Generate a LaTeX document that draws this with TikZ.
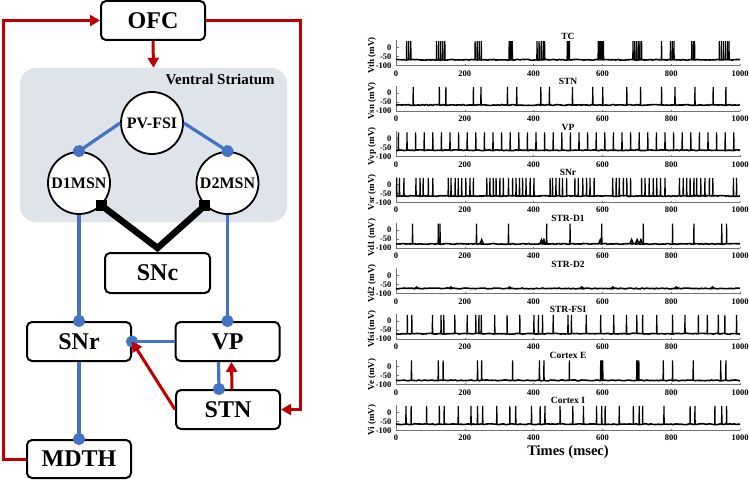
\documentclass[tikz,border=0pt]{standalone}
\usepackage{fontspec}
\setmainfont{Liberation Serif}
\usetikzlibrary{arrows.meta,positioning}

\definecolor{exred}{RGB}{192,0,0}
\definecolor{inblue}{RGB}{68,114,196}
\definecolor{vsgray}{RGB}{223,227,234}

\tikzset{
  box/.style={draw, line width=2pt, rounded corners=5pt, fill=white, minimum width=104pt, minimum height=39pt, font=\fontsize{24}{24}\selectfont\bfseries},
  cell/.style={draw, circle, line width=1.8pt, fill=white, minimum size=62pt, inner sep=0pt, font=\fontsize{16}{16}\selectfont\bfseries},
  region/.style={fill=vsgray, rounded corners=16pt, minimum width=267pt, minimum height=154pt},
  excite/.style={exred, line width=3pt, -{Triangle[length=10pt,width=11pt]}},
  inhib/.style={inblue, line width=3.2pt, -{Circle[length=12pt]}, shorten >=-6pt},
  dopa/.style={line width=6.5pt},
  axisline/.style={black!55, line width=0.6pt},
  ticklabel/.style={font=\fontsize{8.5}{9}\selectfont\bfseries},
  ptitle/.style={font=\fontsize{9.5}{10}\selectfont\bfseries},
  ylab/.style={font=\fontsize{9}{9}\selectfont\bfseries, rotate=90},
  trace/.style={line width=1.6pt},
  spike/.style={line width=1.2pt}
}

\newcommand{\panel}[4]{%
  \begin{scope}[xshift=396pt, yshift={18pt-#1pt}, x=0.344pt, y=0.18pt]
    \draw[axisline] (0,40) -- (0,-100) -- (1000,-100);
    \foreach \v in {0,-50,-100} {
      \draw[axisline] (0,\v) -- (10,\v);
      \node[ticklabel, anchor=east] at (-3,\v) {\v};
    }
    \foreach \t in {0,200,...,1000} {
      \draw[axisline] (\t,-100) -- (\t,-93);
      \node[ticklabel, anchor=north] at (\t,-108) {\t};
    }
    \node[ptitle] at (500,64) {#2};
    \node[ylab] at (-70,-44) {#3};
    \draw[trace] plot[domain=0:1000, samples=170] (\x, {#4-2.5+5*rnd});
  \end{scope}}

\newcommand{\spikes}[3]{%
  \begin{scope}[xshift=396pt, yshift={18pt-#1pt}, x=0.344pt, y=0.18pt]
    \foreach \t in {#3}
      \draw[spike] (\t-0.8,#2) -- (\t,35) -- (\t+0.8,#2-3);
  \end{scope}}

\newcommand{\bumps}[4]{%
  \begin{scope}[xshift=396pt, yshift={18pt-#1pt}, x=0.344pt, y=0.18pt]
    \foreach \t in {#4}
      \draw[trace] (\t-5,#2) -- (\t,#3) -- (\t+5,#2);
  \end{scope}}

\begin{document}
\begin{tikzpicture}[x=1pt, y=-1pt]
\pgfmathsetseed{11}
\useasboundingbox (0,0) rectangle (749,481);

\node[region] (vs) at (153.5,145) {};
\node[anchor=north east, font=\fontsize{15}{15}\selectfont\bfseries] (vslabel) at ([shift={(-9pt,-3pt)}]vs.north east) {Ventral Striatum};

\node[box] (ofc) at (153,20.5) {OFC};
\node[cell] (pvfsi) at (152,123) {PV-FSI};
\node[cell] (d1) at (79,183) {D1MSN};
\node[cell] (d2) at (227.5,183) {D2MSN};
\node[box, minimum width=105pt, minimum height=40pt] (snc) at (157.5,273) {SNc};
\node[box] (snr) at (79,341.5) {SNr};
\node[box] (vp) at (227.5,341.5) {VP};
\node[box] (stn) at (228,409.5) {STN};
\node[box, minimum height=38pt] (mdth) at (79,459) {MDTH};

\draw[excite] (ofc.south) -- (vs.north);
\draw[excite] (mdth.west) -- ++(-23,0) |- (ofc.west);
\draw[excite] (ofc.east) -- ++(94,0) |- (stn.east);

\draw[inhib] (pvfsi.west) -- (d1.north);
\draw[inhib] (pvfsi.east) -- (d2.north);
\draw[dopa] (d1.south east) -- ([yshift=4pt]snc.north) -- (d2.south west);
\fill (d1.south east) +(-5.5pt,-5.5pt) rectangle +(5.5pt,5.5pt);
\fill (d2.south west) +(-5.5pt,-5.5pt) rectangle +(5.5pt,5.5pt);

\draw[inhib] (d1.south) -- (snr.north);
\draw[inhib] (d2.south) -- (vp.north);
\draw[inhib] (vp.west) -- (snr.east);
\draw[excite] (stn.west) -- (snr.east);
\draw[inhib] ([xshift=-9pt]vp.south) -- ([xshift=-9pt]stn.north);
\draw[excite] ([xshift=4pt]stn.north) -- ([xshift=4pt]vp.south);
\draw[inhib] (snr.south) -- (mdth.north);

\panel{65.5}{TC}{Vth (mV)}{-68}
\spikes{65.5}{-68}{31,37,43,118,124,130,136,142,230,236,242,248,329,332,335,338,410,416,422,428,432,498,501,504,588,591,594,597,600,603,689,694,699,704,709,714,772,798,803,808,860,864,868,940,946,952,958,964,968}

\panel{111.1}{STN}{Vsn (mV)}{-66}
\spikes{111.1}{-66}{50,126,145,225,247,324,351,421,446,513,572,601,671,711,772,811,869,922,959}

\panel{156.7}{VP}{Vvp (mV)}{-64}
\spikes{156.7}{-64}{7,32,...,995}

\panel{202.3}{SNr}{Vsr (mV)}{-65}
\spikes{202.3}{-65}{2,10,23,58,70,79,94,107,152,160,172,181,191,203,215,225,264,273,283,291,302,312,327,339,349,359,368,378,390,401,448,455,465,475,484,496,520,530,543,554,564,576,630,640,649,661,671,682,714,724,736,748,758,769,782,824,835,845,855,866,874,886,898,911,921,981,990}

\panel{247.9}{STR-D1}{Vd1 (mV)}{-78}
\spikes{247.9}{-78}{48,123,128,234,327,438,506,598,719,804,866,947,961}
\bumps{247.9}{-78}{-55}{249,423,430,594,685,701,712}

\panel{293.5}{STR-D2}{Vd2 (mV)}{-72}
\bumps{293.5}{-72}{-64}{60,160,330,540,630,815,920}

\panel{339.1}{STR-FSI}{Vfsi (mV)}{-70}
\spikes{339.1}{-70}{33,46,106,131,139,171,207,232,241,248,287,323,360,401,414,426,457,500,510,553,595,633,670,700,717,758,804,840,879,905,937,956,990}

\panel{384.7}{Cortex E}{Ve (mV)}{-76}
\spikes{384.7}{-76}{45,123,137,237,249,339,417,430,504,595,598,601,700,703,706,777,804,864,944,959}

\panel{430.3}{Cortex I}{Vi (mV)}{-66}
\spikes{430.3}{-66}{29,44,89,126,140,181,218,237,252,293,331,348,394,419,433,477,514,545,583,598,608,649,690,707,717,779,855,869,927,947,961}

\node[font=\fontsize{14.5}{15}\selectfont\bfseries] (xlab) at (568,452) {Times (msec)};
\end{tikzpicture}
\end{document}
